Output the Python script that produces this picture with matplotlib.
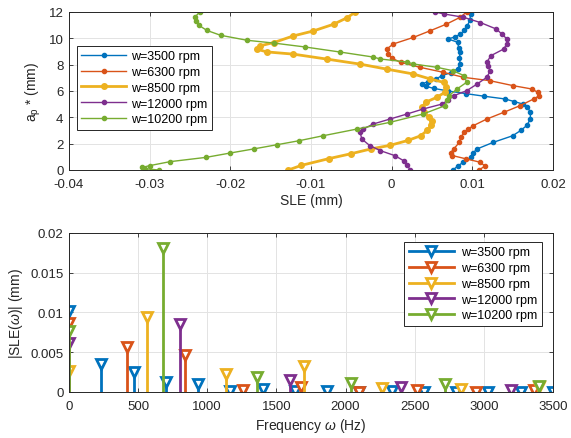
import matplotlib
matplotlib.use("Agg")
import matplotlib.pyplot as plt
from matplotlib.lines import Line2D
from matplotlib.legend_handler import HandlerLine2D
from matplotlib.ticker import FuncFormatter

plt.rcParams['font.family'] = ['Liberation Sans', 'DejaVu Sans']
plt.rcParams['mathtext.fontset'] = 'custom'
plt.rcParams['mathtext.rm'] = 'Liberation Sans'
plt.rcParams['mathtext.it'] = 'Liberation Sans:italic'

labels = ['w=3500 rpm', 'w=6300 rpm', 'w=8500 rpm', 'w=12000 rpm', 'w=10200 rpm']
colors = ['#0072BD', '#D95319', '#EDB120', '#7E2F8E', '#77AC30']

# top panel: depth a_p* (mm) vs SLE (mm)
ap_3500 = [0, 0.3, 0.6, 1.0, 1.3, 1.6, 2.1, 2.6, 3.0, 3.4, 3.9, 4.4, 4.8, 5.0, 5.2, 5.4, 5.6,
           5.8, 6.0, 6.2, 6.35, 6.55, 6.7, 6.9, 7.16, 7.4, 7.7, 8.05, 8.5, 8.94, 9.3, 9.7,
           9.95, 10.1, 10.3, 10.6, 10.96, 11.4, 11.85, 12.0]
sle_3500 = [0.0076, 0.0082, 0.0089, 0.0099, 0.0101, 0.0106, 0.0126, 0.0150, 0.0160, 0.0168,
            0.0172, 0.0172, 0.0168, 0.0163, 0.0152, 0.0140, 0.0115, 0.0092, 0.0070, 0.0052,
            0.0043, 0.0038, 0.0045, 0.0055, 0.0062, 0.0074, 0.0082, 0.0085, 0.0084, 0.0085,
            0.0083, 0.0082, 0.0070, 0.0078, 0.0085, 0.0090, 0.0094, 0.0097, 0.0098, 0.0099]

ap_6300 = [0, 0.3, 0.6, 0.85, 1.1, 1.3, 1.6, 2.1, 2.5, 2.86, 3.1, 3.36, 3.87, 4.38, 4.88,
           5.39, 5.64, 5.9, 6.15, 6.4, 6.78, 7.04, 7.42, 7.8, 8.18, 8.5, 8.8, 9.19, 9.57,
           10.07, 10.58, 11.08, 11.6, 12.0]
sle_6300 = [0.0108, 0.0116, 0.0109, 0.0092, 0.0075, 0.0073, 0.0077, 0.0084, 0.0086, 0.0090,
            0.0095, 0.0101, 0.0118, 0.0139, 0.0159, 0.0176, 0.0183, 0.0181, 0.0174, 0.0151,
            0.0122, 0.0089, 0.0064, 0.0035, 0.0011, 0.0000, -0.0004, -0.0006, 0.0002,
            0.0027, 0.0048, 0.0068, 0.0085, 0.0093]

ap_8500 = [0, 0.35, 0.86, 1.24, 1.61, 1.87, 2.24, 2.6, 3.0, 3.4, 3.75, 4.0, 4.39, 4.76, 5.14,
           5.52, 5.9, 6.28, 6.65, 6.91, 7.29, 7.66, 8.04, 8.42, 8.8, 8.97, 9.18, 9.43, 9.68,
           10.18, 10.56, 11.07, 11.57, 12.0]
sle_8500 = [-0.0128, -0.0112, -0.0078, -0.0050, -0.0025, -0.0002, 0.0020, 0.0036, 0.0044,
            0.0049, 0.0050, 0.0046, 0.0040, 0.0038, 0.0042, 0.0056, 0.0066, 0.0068, 0.0065,
            0.0048, 0.0027, -0.0006, -0.0039, -0.0080, -0.0122, -0.0155, -0.0167, -0.0163,
            -0.0146, -0.0122, -0.0097, -0.0072, -0.0055, -0.0045]

ap_12000 = [0, 0.4, 0.7, 1.09, 1.47, 1.85, 2.35, 2.86, 3.11, 3.49, 3.87, 4.25, 4.63, 5.0, 5.3,
            5.64, 6.02, 6.53, 7.04, 7.5, 7.9, 8.18, 8.68, 9.19, 9.6, 9.95, 10.3, 10.7, 11.2,
            11.6, 11.85, 12.0]
sle_12000 = [0.0023, 0.0019, 0.0015, 0.0004, -0.0014, -0.0027, -0.0037, -0.0039, -0.0035,
             -0.0023, -0.0002, 0.0019, 0.0039, 0.0062, 0.0070, 0.0077, 0.0093, 0.0106, 0.0118,
             0.0122, 0.0120, 0.0118, 0.0123, 0.0139, 0.0143, 0.0143, 0.0137, 0.0130, 0.0110,
             0.0089, 0.0065, 0.0054]

ap_10200 = [0, 0.1, 0.2, 0.33, 0.63, 0.96, 1.29, 1.6, 1.92, 2.22, 2.6, 3.11, 3.62, 4.25, 4.88,
            5.3, 5.64, 6.15, 6.66, 7.16, 7.54, 7.8, 8.05, 8.2, 8.43, 8.58, 8.96, 9.34, 9.64,
            9.85, 10.23, 10.6, 10.99, 11.3, 11.6, 12.0]
sle_10200 = [-0.0289, -0.0306, -0.0309, -0.0300, -0.0275, -0.0230, -0.0200, -0.0171, -0.0142,
             -0.0115, -0.0085, -0.0043, -0.0002, 0.0039, 0.0066, 0.0069, 0.0071, 0.0081,
             0.0093, 0.0090, 0.0076, 0.0056, 0.0027, 0.0019, -0.0014, -0.0023, -0.0064,
             -0.0107, -0.0146, -0.0179, -0.0212, -0.0229, -0.0239, -0.0243, -0.0244, -0.0238]

depths = [ap_3500, ap_6300, ap_8500, ap_12000, ap_10200]
sles = [sle_3500, sle_6300, sle_8500, sle_12000, sle_10200]

# bottom panel: spectrum |SLE(w)|
f_3500 = [0, 233, 467, 700, 933, 1167, 1400, 1633, 1867, 2100, 2333, 2567, 2800, 3033, 3267, 3500]
a_3500 = [0.01025, 0.00356, 0.00251, 0.00126, 0.00105, 0.0001, 0.0004, 0.0001, 0.0001, 0.0,
          0.0001, 0.0, 0.0, 0.0, 0.0, 0.0]
f_6300 = [0, 420, 840, 1260, 1680, 2100, 2520, 2940, 3360]
a_6300 = [0.0087, 0.00565, 0.0046, 0.0002, 0.0006, 0.0, 0.0003, 0.0, 0.0002]
f_8500 = [0, 567, 1133, 1700, 2267, 2833, 3400]
a_8500 = [0.0027, 0.0094, 0.0023, 0.0033, 0.00054, 0.0004, 0.0006]
f_12000 = [0, 800, 1600, 2400, 3200]
a_12000 = [0.0061, 0.0085, 0.0015, 0.0006, 0.0002]
f_10200 = [0, 680, 1360, 2040, 2720, 3400]
a_10200 = [0.0077, 0.0181, 0.0019, 0.0011, 0.0010, 0.0008]

freqs = [f_3500, f_6300, f_8500, f_12000, f_10200]
amps = [a_3500, a_6300, a_8500, a_12000, a_10200]

ink = '#262626'
fmt = FuncFormatter(lambda v, p: '%g' % round(v, 6))


def style(ax):
    ax.grid(True, color='#e3e3e3', lw=0.7)
    ax.set_axisbelow(True)
    ax.tick_params(direction='in', top=True, right=True, length=3, width=0.6,
                   colors=ink, labelsize=9.5)
    ax.tick_params(axis='x', pad=6)
    ax.tick_params(axis='y', pad=4)
    for s in ax.spines.values():
        s.set_color(ink)
        s.set_linewidth(0.7)


class RightMarker(HandlerLine2D):
    def get_xdata(self, legend, xdescent, ydescent, width, height, fontsize):
        return [-xdescent, -xdescent + width], [-xdescent + width * 0.85]


fig = plt.figure(figsize=(5.71, 4.39), dpi=100)
ax1 = fig.add_axes([0.1208, 0.6105, 0.8476, 0.3599])
ax2 = fig.add_axes([0.1208, 0.1048, 0.8476, 0.3622])

for i in range(5):
    thick = (i == 2)
    ax1.plot(sles[i], depths[i], '-o', color=colors[i], lw=2.0 if thick else 1.0,
             ms=4.0 if thick else 3.0, label=labels[i])
ax1.set_xlim(-0.04, 0.02)
ax1.set_ylim(0, 12)
ax1.set_xticks([-0.04, -0.03, -0.02, -0.01, 0, 0.01, 0.02])
ax1.set_yticks([0, 2, 4, 6, 8, 10, 12])
ax1.xaxis.set_major_formatter(fmt)
ax1.set_xlabel('SLE (mm)', fontsize=10, color=ink, labelpad=2)
ax1.set_ylabel(r'a$_\mathrm{p}$ * (mm)', fontsize=10, color=ink, labelpad=4)
style(ax1)
leg1 = ax1.legend(loc='upper left', bbox_to_anchor=(0.0165, 0.785), borderaxespad=0,
                  fontsize=9, fancybox=False, framealpha=1, edgecolor=ink,
                  handlelength=3.6, labelspacing=0.3, borderpad=0.35, handletextpad=0.4)
leg1.get_frame().set_linewidth(0.7)

handles = []
for i in range(5):
    ax2.vlines(freqs[i], 0, amps[i], color=colors[i], lw=2.0)
    ax2.plot(freqs[i], amps[i], 'v', color=colors[i], ms=7, mfc='white', mew=2.0)
    handles.append(Line2D([], [], color=colors[i], lw=2.0, marker='v', ms=7,
                          mfc='white', mew=2.0))
ax2.axhline(0, color=ink, lw=0.7)
ax2.set_xlim(0, 3500)
ax2.set_ylim(0, 0.02)
ax2.set_xticks([0, 500, 1000, 1500, 2000, 2500, 3000, 3500])
ax2.set_yticks([0, 0.005, 0.01, 0.015, 0.02])
ax2.yaxis.set_major_formatter(fmt)
ax2.set_xlabel(r'Frequency $\omega$ (Hz)', fontsize=10, color=ink, labelpad=3)
ax2.set_ylabel(r'|SLE($\omega$)| (mm)', fontsize=10, color=ink, labelpad=4)
style(ax2)
leg2 = ax2.legend(handles, labels, loc='upper right', bbox_to_anchor=(0.977, 0.943),
                  borderaxespad=0, fontsize=9, fancybox=False, framealpha=1, edgecolor=ink,
                  handlelength=3.6, labelspacing=0.3, borderpad=0.35, handletextpad=0.6,
                  handler_map={Line2D: RightMarker()})
leg2.get_frame().set_linewidth(0.7)

fig.savefig('out.png', dpi=100)
